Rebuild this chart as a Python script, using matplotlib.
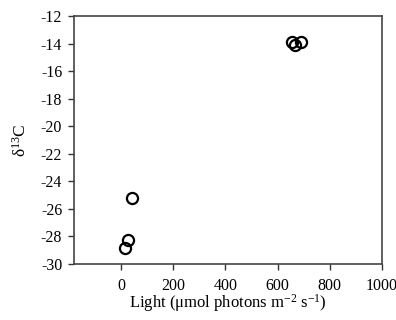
import matplotlib
matplotlib.use('Agg')
import matplotlib.pyplot as plt

# font setup: Times-like serif
plt.rcParams['font.family'] = ['Liberation Serif', 'DejaVu Serif']
plt.rcParams['mathtext.fontset'] = 'custom'
plt.rcParams['mathtext.rm'] = 'Liberation Serif'
plt.rcParams['mathtext.it'] = 'Liberation Serif:italic'

# data
light = [17, 28, 43, 656, 668, 688]
d13c = [-28.86, -28.25, -25.23, -13.86, -14.1, -13.88]

x_ticks = [0, 200, 400, 600, 800, 1000]
y_ticks = [-30, -28, -26, -24, -22, -20, -18, -16, -14, -12]

fig = plt.figure(figsize=(3.96, 3.2), dpi=100)
ax = fig.add_axes([74 / 396, 1 - 264 / 320, 308 / 396, 248 / 320])

ax.plot(light, d13c, linestyle='none', marker='o', markersize=8,
        markerfacecolor='none', markeredgecolor='black', markeredgewidth=1.6)

ax.set_xlim(-180, 1000)
ax.set_ylim(-30, -12)
ax.set_xticks(x_ticks)
ax.set_yticks(y_ticks)
ax.set_xticklabels([str(t) for t in x_ticks])
ax.set_yticklabels([str(t) for t in y_ticks])
ax.tick_params(direction='out', length=4, width=1, labelsize=11.5, pad=4.5, color='#333333')
ax.tick_params(axis='x', pad=6)

for s in ax.spines.values():
    s.set_color('#444444')
    s.set_linewidth(1.2)

ax.set_xlabel(r'Light ($\mathrm{\mu}$mol photons m$^{-2}$ s$^{-1}$)', fontsize=12, labelpad=-1)
ax.set_ylabel(r'$\mathrm{\delta}^{13}$C', fontsize=12.5, labelpad=8)

fig.savefig('out.png', dpi=100)
